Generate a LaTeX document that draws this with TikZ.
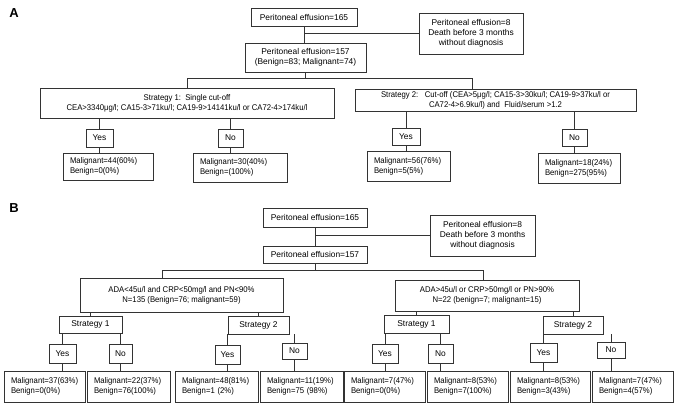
\documentclass[tikz,border=0pt]{standalone}
\usepackage{fontspec}
\setmainfont{Liberation Sans}
\newfontfamily\narrowsans{Liberation Sans}[FakeStretch=0.93]
\begin{document}
\begin{tikzpicture}[x=1pt,y=-1pt,
  box/.style={draw=black!80, line width=0.7pt, inner sep=1pt, align=center,
    font=\fontsize{8.4}{10}\selectfont},
  nbox/.style={box, font=\narrowsans\fontsize{8.3}{10}\selectfont},
  res/.style={nbox, align=left, inner xsep=7pt, inner ysep=2pt},
  conn/.style={draw=black!80, line width=0.7pt},
  panel/.style={font=\fontsize{13}{13}\selectfont\bfseries}]
\useasboundingbox (0,0) rectangle (677,407);

% ---------------- Panel A ----------------
\node[panel] (labA) at (14,13) {A};
\node[box, minimum width=106pt, minimum height=18pt] (a165) at (304,17) {Peritoneal effusion=165};
\node[box, minimum width=104pt, minimum height=41pt] (a8) at (471,33.5) {Peritoneal effusion=8\\Death before 3 months\\without diagnosis};
\node[box, minimum width=121pt, minimum height=29pt] (a157) at (305.5,57.5) {Peritoneal effusion=157\\(Benign=83; Malignant=74)};
\node[nbox, minimum width=294pt, minimum height=30pt] (as1) at (187,103) {Strategy 1:~~Single cut-off\\CEA>3340μg/l; CA15-3>71ku/l; CA19-9>14141ku/l or CA72-4>174ku/l};
\node[nbox, minimum width=281pt, minimum height=22pt] (as2) at (495.5,100) {Strategy 2:~~~Cut-off (CEA>5μg/l; CA15-3>30ku/l; CA19-9>37ku/l or\\CA72-4>6.9ku/l) and~~Fluid/serum >1.2};
\node[box, minimum width=27pt, minimum height=18pt] (ay1) at (99.5,138) {Yes};
\node[box, minimum width=25pt, minimum height=18pt] (an1) at (230.5,138) {No};
\node[box, minimum width=28pt, minimum height=17pt] (ay2) at (406,136.5) {Yes};
\node[box, minimum width=25pt, minimum height=17pt] (an2) at (574.5,137.5) {No};
\node[res, text width=76pt, minimum height=27pt] (ar1) at (108,166.5) {Malignant=44(60\%)\\Benign=0(0\%)};
\node[res, text width=80pt, minimum height=29pt] (ar2) at (240,167.5) {Malignant=30(40\%)\\Benign=(100\%)};
\node[res, text width=69pt, minimum height=30pt] (ar3) at (408.5,166) {Malignant=56(76\%)\\Benign=5(5\%)};
\node[res, text width=68pt, minimum height=30pt] (ar4) at (579,168) {Malignant=18(24\%)\\Benign=275(95\%)};

\coordinate (abusL) at (187,78);
\coordinate (abusR) at (472,78);
\draw[conn] (a165.south) -- (a165.south |- a157.north);
\draw[conn] (a165.south |- a8.west) -- (a8.west);
\draw[conn] (a157.south) -- (a157.south |- abusL);
\draw[conn] (as1.north) -- (abusL) -- (abusR) -- (abusR |- as2.north);
\draw[conn] (ay1.north) -- (ay1.north |- as1.south);
\draw[conn] (an1.north) -- (an1.north |- as1.south);
\draw[conn] (ay2.north) -- (ay2.north |- as2.south);
\draw[conn] (an2.north) -- (an2.north |- as2.south);
\draw[conn] (ay1.south) -- (ay1.south |- ar1.north);
\draw[conn] (an1.south) -- (an1.south |- ar2.north);
\draw[conn] (ay2.south) -- (ay2.south |- ar3.north);
\draw[conn] (an2.south) -- (an2.south |- ar4.north);

% ---------------- Panel B ----------------
\node[panel] (labB) at (14,208) {B};
\node[box, minimum width=104pt, minimum height=19pt] (b165) at (315,217.5) {Peritoneal effusion=165};
\node[box, minimum width=105pt, minimum height=41pt] (b8) at (482.5,235.5) {Peritoneal effusion=8\\Death before 3 months\\without diagnosis};
\node[box, minimum width=104pt, minimum height=17pt] (b157) at (315,254.5) {Peritoneal effusion=157};
\node[nbox, minimum width=203pt, minimum height=34pt] (bl) at (181.5,295) {ADA<45u/l and CRP<50mg/l and PN<90\%\\N=135 (Benign=76; malignant=59)};
\node[nbox, minimum width=184pt, minimum height=31pt] (br) at (487,295.5) {ADA>45u/l or CRP>50mg/l or PN>90\%\\N=22 (benign=7; malignant=15)};

\node[box, minimum width=63pt, minimum height=17pt] (bs1) at (90.5,324.5) {Strategy 1};
\node[box, minimum width=61pt, minimum height=18pt] (bs2) at (258.5,325) {Strategy 2};
\node[box, minimum width=65pt, minimum height=18pt] (bs3) at (416.5,324.5) {Strategy 1};
\node[box, minimum width=60pt, minimum height=18pt] (bs4) at (573,325) {Strategy 2};

\node[box, minimum width=27pt, minimum height=19pt] (by1) at (62.5,353.5) {Yes};
\node[box, minimum width=23pt, minimum height=19pt] (bn1) at (120.5,353.5) {No};
\node[box, minimum width=25pt, minimum height=19pt] (by2) at (227.5,354.5) {Yes};
\node[box, minimum width=25pt, minimum height=16pt] (bn2) at (294.5,351) {No};
\node[box, minimum width=26pt, minimum height=19pt] (by3) at (385,353.5) {Yes};
\node[box, minimum width=25pt, minimum height=19pt] (bn3) at (440.5,353.5) {No};
\node[box, minimum width=27pt, minimum height=19pt] (by4) at (543.5,352.5) {Yes};
\node[box, minimum width=28pt, minimum height=16pt] (bn4) at (611,350) {No};

\node[res, text width=67pt, minimum height=31pt] (bq1) at (44.5,386.5) {Malignant=37(63\%)\\Benign=0(0\%)};
\node[res, text width=69pt, minimum height=31pt] (bq2) at (128.5,386.5) {Malignant=22(37\%)\\Benign=76(100\%)};
\node[res, text width=69pt, minimum height=31pt] (bq3) at (216.5,386.5) {Malignant=48(81\%)\\Benign=1 (2\%)};
\node[res, text width=69pt, minimum height=31pt] (bq4) at (301.5,386.5) {Malignant=11(19\%)\\Benign=75 (98\%)};
\node[res, text width=67pt, minimum height=31pt] (bq5) at (384.5,386.5) {Malignant=7(47\%)\\Benign=0(0\%)};
\node[res, text width=67pt, minimum height=31pt] (bq6) at (467.5,386.5) {Malignant=8(53\%)\\Benign=7(100\%)};
\node[res, text width=66pt, minimum height=31pt] (bq7) at (550,386.5) {Malignant=8(53\%)\\Benign=3(43\%)};
\node[res, text width=67pt, minimum height=31pt] (bq8) at (632.5,386.5) {Malignant=7(47\%)\\Benign=4(57\%)};

\coordinate (bbusL) at (162,270);
\coordinate (bbusR) at (483,270);
\draw[conn] (b165.south) -- (b165.south |- b157.north);
\draw[conn] (b165.south |- b8.west) -- (b8.west);
\draw[conn] (b157.south) -- (b157.south |- bbusL);
\draw[conn] (bbusL |- bl.north) -- (bbusL) -- (bbusR) -- (bbusR |- br.north);

\draw[conn] (bs1.north) -- (bs1.north |- bl.south);
\draw[conn] (bs2.north) -- (bs2.north |- bl.south);
\draw[conn] (bs3.north) -- (bs3.north |- br.south);
\draw[conn] (bs4.north) -- (bs4.north |- br.south);

\draw[conn] (by1.north) -- (by1.north |- bs1.south);
\draw[conn] (bn1.north) -- (bn1.north |- bs1.south);
\draw[conn] (by2.north) -- (by2.north |- bs2.south);
\draw[conn] (bn2.north) -- (bn2.north |- bs2.south);
\draw[conn] (by3.north) -- (by3.north |- bs3.south);
\draw[conn] (bn3.north) -- (bn3.north |- bs3.south);
\draw[conn] (by4.north) -- (by4.north |- bs4.south);
\draw[conn] (bn4.north) -- (bn4.north |- bs4.south);

\draw[conn] (by1.south) -- (by1.south |- bq1.north);
\draw[conn] (bn1.south) -- (bn1.south |- bq2.north);
\draw[conn] (by2.south) -- (by2.south |- bq3.north);
\draw[conn] (bn2.south) -- (bn2.south |- bq4.north);
\draw[conn] (by3.south) -- (by3.south |- bq5.north);
\draw[conn] (bn3.south) -- (bn3.south |- bq6.north);
\draw[conn] (by4.south) -- (by4.south |- bq7.north);
\draw[conn] (bn4.south) -- (bn4.south |- bq8.north);
\end{tikzpicture}
\end{document}
